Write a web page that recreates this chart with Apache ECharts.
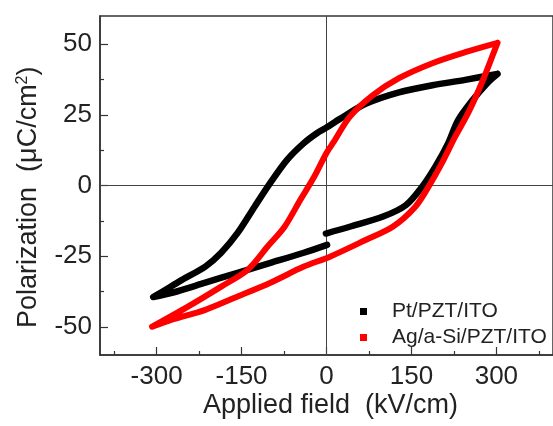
<!DOCTYPE html>
<html>
<head>
<meta charset="utf-8">
<script src="https://cdn.jsdelivr.net/npm/echarts@6/dist/echarts.min.js"></script>
<style>
  html, body { margin: 0; padding: 0; background: #fff; }
  #chart { width: 553px; height: 426px; }
</style>
</head>
<body>
<div id="chart"></div>
<script>
// P–E hysteresis loops, field in kV/cm, polarization in µC/cm²
const seriesNames = ['Pt/PZT/ITO', 'Ag/a-Si/PZT/ITO'];

// Pt/PZT/ITO: descending branch (+E_max -> -E_max), then ascending branch.
// The ascending branch has a small step at E = 0 (gap marked with '-').
const ptDown = [[302,39.5],[245,37.4],[187,35.5],[128,33],[70,29],[23,23.5],[0,20.5],[-17,18.5],[-40,15],[-70,9],[-99,1],[-127,-7.5],[-157,-16.8],[-186,-23.8],[-214,-28.7],[-256,-33.5],[-290,-37.6],[-306,-39.5]];
const ptUp = [[-306,-39.5],[-273,-38],[-214,-34.4],[-157,-30.9],[-99,-27.4],[-40,-23.8],[1,-21],[0,'-'],[-1,-17],[41,-14.6],[100,-11],[140,-7],[169,-0.4],[192,6.6],[215,15],[232,23],[257,30],[285,36.5],[302,39.5]];

// Ag/a-Si/PZT/ITO
const agDown = [[302,50.5],[245,47.2],[187,43.3],[128,38],[82,32],[41,24.3],[13,15.5],[0,11.5],[-22,3],[-46,-5],[-74,-14.6],[-104,-21.6],[-139,-29.8],[-186,-35.8],[-244,-42.8],[-308,-50]];
const agUp = [[-308,-50],[-273,-47.5],[-214,-44],[-157,-39.3],[-99,-34.4],[-40,-28.7],[6,-25.2],[70,-19.2],[117,-14.6],[157,-7.5],[180,-0.5],[204,8],[227,17.2],[250,25.6],[274,36.2],[297,47.9],[302,50.5]];

// axis ticks and labels
const xLabels = [-300, -150, 0, 150, 300];
const xMinor = [-375, -225, -75, 75, 225, 375];
const yLabels = [-50, -25, 0, 25, 50];
const yMinor = [-37.5, -12.5, 12.5, 37.5];

const FONT = 'Liberation Sans, Arial, sans-serif';
const AXIS_COLOR = '#333';
const TEXT_COLOR = '#222';

const chart = echarts.init(document.getElementById('chart'), null, { renderer: 'canvas' });

const baseX = { type: 'value', min: -400, max: 400, splitLine: { show: false } };
const baseY = { type: 'value', min: -60, max: 60, splitLine: { show: false } };

chart.setOption({
  backgroundColor: '#fff',
  animation: false,
  grid: {
    left: 100, top: 16, right: -5, bottom: 71,
    show: true, borderColor: AXIS_COLOR, borderWidth: 1.5, backgroundColor: 'transparent'
  },
  xAxis: [
    Object.assign({}, baseX, {
      position: 'bottom',
      axisLine: { onZero: false, lineStyle: { color: AXIS_COLOR, width: 1.5 } },
      axisTick: { inside: true, length: 8, customValues: xLabels, lineStyle: { color: AXIS_COLOR, width: 1.2 } },
      axisLabel: { customValues: xLabels, margin: 9, fontSize: 26, color: TEXT_COLOR, fontFamily: FONT }
    }),
    Object.assign({}, baseX, {
      position: 'bottom',
      axisLine: { show: false, onZero: false },
      axisTick: { inside: true, length: 4, customValues: xMinor, lineStyle: { color: AXIS_COLOR, width: 1.2 } },
      axisLabel: { show: false }
    })
  ],
  yAxis: [
    Object.assign({}, baseY, {
      position: 'left',
      axisLine: { onZero: false, lineStyle: { color: AXIS_COLOR, width: 1.5 } },
      axisTick: { inside: true, length: 8, customValues: yLabels, lineStyle: { color: AXIS_COLOR, width: 1.2 } },
      axisLabel: { customValues: yLabels, margin: 8, fontSize: 26, color: TEXT_COLOR, fontFamily: FONT }
    }),
    Object.assign({}, baseY, {
      position: 'left',
      axisLine: { show: false, onZero: false },
      axisTick: { inside: true, length: 4, customValues: yMinor, lineStyle: { color: AXIS_COLOR, width: 1.2 } },
      axisLabel: { show: false }
    })
  ],
  legend: {
    orient: 'vertical',
    left: 355, top: 296,
    itemWidth: 7, itemHeight: 7, itemGap: 5,
    icon: 'rect',
    textStyle: { fontSize: 21, color: TEXT_COLOR, fontFamily: FONT, padding: [0, 0, 0, 20] },
    data: seriesNames
  },
  graphic: [
    {
      type: 'text', left: 203, top: 392,
      style: { text: 'Applied field  (kV/cm)', fontSize: 27, fill: TEXT_COLOR, fontFamily: FONT }
    },
    {
      type: 'text', x: 15, y: 328, rotation: Math.PI / 2,
      style: {
        text: '{t|Polarization  (\u03bcC/cm}{s|2}{t|)}',
        rich: {
          t: { fontSize: 27, fill: TEXT_COLOR, fontFamily: FONT },
          s: { fontSize: 16, fill: TEXT_COLOR, fontFamily: FONT, verticalAlign: 'top', padding: [0, 0, 12, 0] }
        }
      }
    }
  ],
  series: [
    {
      name: seriesNames[0], type: 'line', xAxisIndex: 0, yAxisIndex: 0,
      data: ptDown.concat(ptUp.slice(1)),
      smooth: 0.3, showSymbol: false, symbol: 'rect', connectNulls: false,
      itemStyle: { color: '#000' },
      lineStyle: { color: '#000', width: 6.5, join: 'round', cap: 'round' },
      z: 3,
      markLine: {
        silent: true, symbol: 'none', label: { show: false },
        lineStyle: { color: '#444', width: 1, type: 'solid' },
        data: [{ xAxis: 0 }, { yAxis: 0 }],
        z: 1
      }
    },
    {
      name: seriesNames[1], type: 'line', xAxisIndex: 0, yAxisIndex: 0,
      data: agDown.concat(agUp.slice(1)),
      smooth: 0.3, showSymbol: false, symbol: 'rect',
      itemStyle: { color: '#ff0000' },
      lineStyle: { color: '#ff0000', width: 6, join: 'round', cap: 'round' },
      z: 4
    }
  ]
});
</script>
</body>
</html>
